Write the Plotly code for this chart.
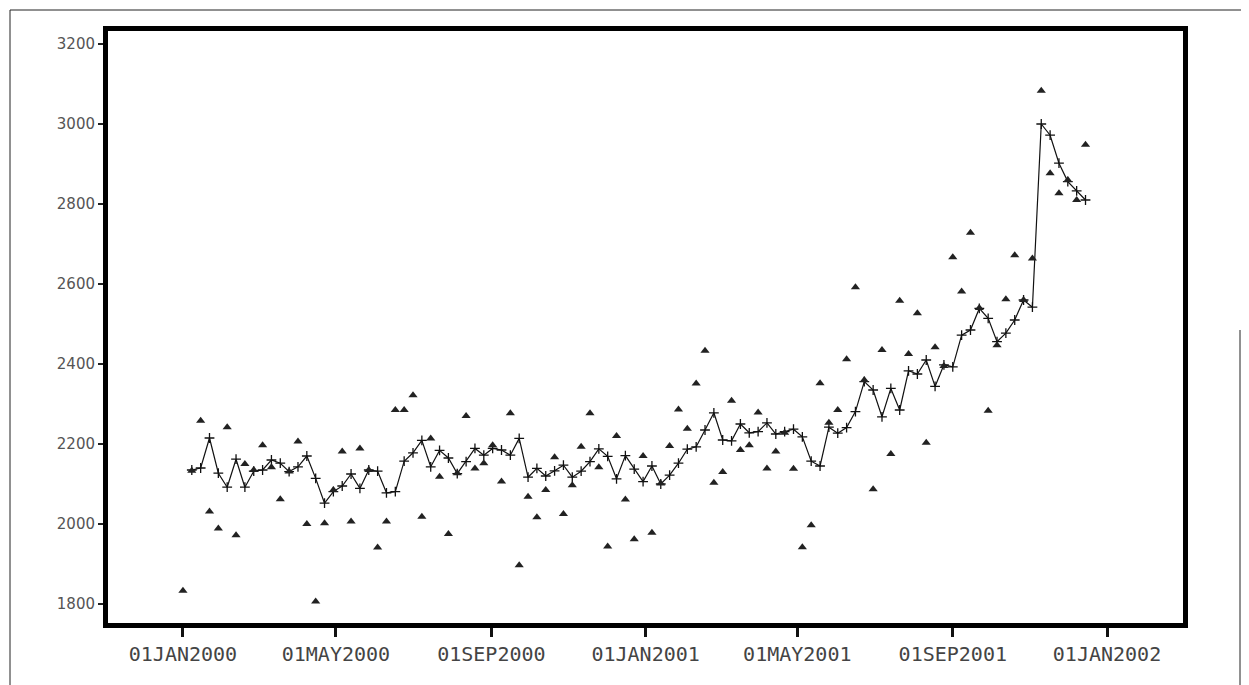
import pandas as pd
import plotly.graph_objects as go

# weekly observations starting 01JAN2000
start_date = "2000-01-01"
n_weeks = 103

actual = [
    1833, 2133, 2258, 2031, 1989, 2242, 1972, 2150, 2135, 2197,
    2142, 2062, 2131, 2206, 2000, 1806, 2002, 2085, 2181, 2006,
    2189, 2135, 1941, 2006, 2285, 2285, 2322, 2018, 2214, 2118,
    1975, 2127, 2270, 2139, 2152, 2197, 2106, 2277, 1897, 2068,
    2017, 2085, 2167, 2025, 2097, 2193, 2277, 2142, 1944, 2220,
    2061, 1962, 2170, 1978, 2101, 2195, 2286, 2238, 2351, 2433,
    2103, 2130, 2308, 2185, 2197, 2279, 2139, 2181, 2228, 2138,
    1942, 1997, 2352, 2253, 2285, 2412, 2592, 2360, 2087, 2435,
    2175, 2558, 2425, 2527, 2203, 2442, 2395, 2667, 2581, 2728,
    2540, 2283, 2447, 2562, 2672, 2560, 2664, 3083, 2877, 2827,
    2860, 2810, 2948,
]

smoothed = [
    None, 2135, 2140, 2215, 2127, 2092, 2162, 2092, 2132, 2135,
    2160, 2152, 2131, 2143, 2170, 2114, 2052, 2081, 2095, 2125,
    2089, 2135, 2132, 2078, 2081, 2157, 2178, 2209, 2143, 2184,
    2165, 2126, 2156, 2189, 2172, 2189, 2185, 2172, 2214, 2117,
    2139, 2120, 2133, 2147, 2117, 2132, 2156, 2188, 2169, 2113,
    2171, 2137, 2106, 2145, 2100, 2122, 2152, 2187, 2193, 2235,
    2278, 2210, 2208, 2250, 2228, 2231, 2253, 2225, 2231, 2237,
    2218, 2157, 2145, 2242, 2227, 2241, 2281, 2356, 2335, 2268,
    2339, 2285, 2383, 2375, 2410, 2344, 2398, 2393, 2472, 2485,
    2539, 2514, 2456, 2477, 2510, 2560, 2542, 3000, 2972, 2902,
    2856, 2833, 2810,
]

x_tick_vals = ["2000-01-01", "2000-05-01", "2000-09-01", "2001-01-01",
               "2001-05-01", "2001-09-01", "2002-01-01"]
x_tick_text = ["01JAN2000", "01MAY2000", "01SEP2000", "01JAN2001",
               "01MAY2001", "01SEP2001", "01JAN2002"]
y_tick_vals = [1800, 2000, 2200, 2400, 2600, 2800, 3000, 3200]

dates = pd.date_range(start_date, periods=n_weeks, freq="7D")

fig = go.Figure()
fig.add_trace(go.Scatter(
    x=dates, y=smoothed, mode="lines+markers",
    line=dict(color="#111111", width=1.2),
    marker=dict(symbol="cross-thin", size=7, line=dict(color="#111111", width=1.3)),
    connectgaps=False, showlegend=False, hoverinfo="skip",
))
fig.add_trace(go.Scatter(
    x=dates, y=actual, mode="markers",
    marker=dict(symbol="triangle-up", size=8, color="#222222"),
    showlegend=False,
))

# the page body adds an 8px offset; layout numbers are in figure pixels
OFF = 8
W, H = 1249, 685
L, T = 108 - OFF, 31 - OFF
pw, ph = 1075, 592
R = W - L - pw
B = H - T - ph


def px(xs):
    return (xs - OFF - L) / pw


def py(ys):
    return (T + ph - (ys - OFF)) / ph


# outer thin border of the picture
fig.add_shape(type="line", xref="paper", yref="paper",
              x0=px(10), x1=px(1260), y0=py(10), y1=py(10),
              line=dict(color="#222222", width=1))
fig.add_shape(type="line", xref="paper", yref="paper",
              x0=px(10), x1=px(10), y0=py(10), y1=py(700),
              line=dict(color="#222222", width=1))
fig.add_shape(type="line", xref="paper", yref="paper",
              x0=px(1240), x1=px(1240), y0=py(330), y1=py(700),
              line=dict(color="#222222", width=1))

fig.update_layout(
    width=W, height=H,
    margin=dict(l=L, r=R, t=T, b=B, autoexpand=False),
    paper_bgcolor="white", plot_bgcolor="white",
    showlegend=False,
)
fig.update_xaxes(
    range=["1999-11-02 17:00", "2002-03-02 03:00"],
    tickvals=x_tick_vals, ticktext=x_tick_text,
    tickfont=dict(family="DejaVu Sans Mono", size=20, color="#444444"),
    ticks="outside", ticklen=9, tickwidth=3, tickcolor="#111111",
    showline=True, linewidth=5, linecolor="#000000", mirror=True,
    showgrid=False, zeroline=False,
)
fig.update_yaxes(
    range=[1752.5, 3232.5],
    tickvals=y_tick_vals, ticktext=[str(v) for v in y_tick_vals],
    tickfont=dict(family="DejaVu Sans", size=15, color="#555555"),
    ticks="outside", ticklen=5, tickwidth=2, tickcolor="#222222",
    showline=True, linewidth=5, linecolor="#000000", mirror=True,
    showgrid=False, zeroline=False,
)

fig.write_html("out.html")
